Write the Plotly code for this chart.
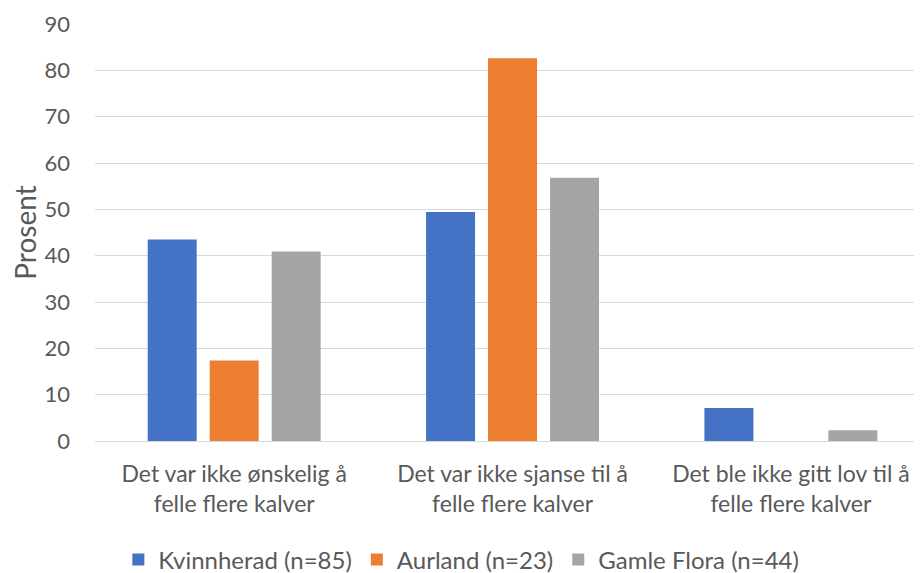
import plotly.graph_objects as go

categories = [
    "Det var ikke ønskelig å<br>felle flere kalver",
    "Det var ikke sjanse til å<br>felle flere kalver",
    "Det ble ikke gitt lov til å<br>felle flere kalver",
]

kvinnherad = [43.5, 49.4, 7.1]
aurland = [17.4, 82.6, 0.0]
gamle_flora = [40.9, 56.8, 2.3]

series = [
    ("Kvinnherad (n=85)", kvinnherad, "#4472C4"),
    ("Aurland (n=23)", aurland, "#ED7D31"),
    ("Gamle Flora (n=44)", gamle_flora, "#A5A5A5"),
]

fig = go.Figure()
for name, values, color in series:
    fig.add_trace(go.Bar(
        x=categories,
        y=values,
        name=name,
        marker=dict(color=color, line=dict(width=0)),
    ))

# page body adds an 8px offset, so the figure is sized to the visible area
fig.update_layout(
    width=914,
    height=565,
    margin=dict(l=87, r=0, t=16, b=132, autoexpand=False),
    plot_bgcolor="white",
    paper_bgcolor="white",
    font=dict(family="Lato", size=23, color="#595959"),
    barmode="group",
    bargap=0.332,
    bargroupgap=0.21,
    showlegend=True,
    legend=dict(
        orientation="h",
        x=0.443,
        xanchor="center",
        y=-0.285,
        yanchor="middle",
        font=dict(size=24, color="#595959"),
        itemwidth=30,
    ),
)

fig.update_xaxes(
    range=[-0.5, 2.471],
    showgrid=False,
    showline=True,
    linecolor="#D9D9D9",
    linewidth=1,
    ticks="",
    tickangle=0,
    ticklabelstandoff=12,
    tickfont=dict(size=23),
)

fig.update_yaxes(
    range=[0, 90],
    dtick=10,
    showgrid=True,
    gridcolor="#D9D9D9",
    gridwidth=1,
    zeroline=False,
    ticks="",
    ticklabelstandoff=24,
    tickfont=dict(size=22),
    title=dict(text="Prosent", font=dict(size=28), standoff=12),
)

fig.write_html("out.html")
